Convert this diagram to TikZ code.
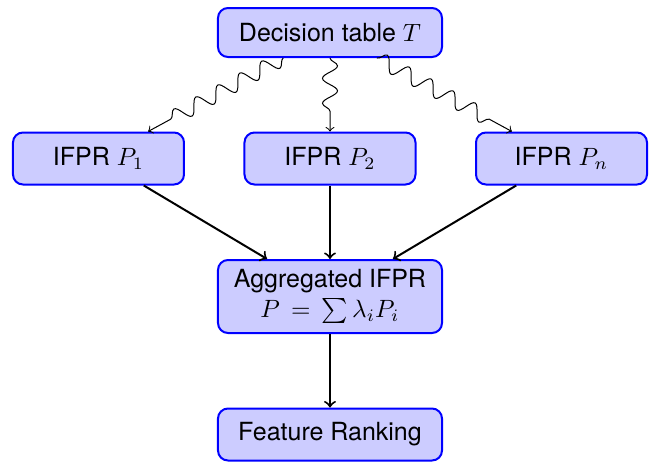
\documentclass[tikz,border=0pt]{standalone}
\usepackage[no-math]{fontspec}
\setmainfont{TeX Gyre Heros}
\usepackage{amsmath,amssymb}
\usetikzlibrary{positioning,decorations.pathmorphing}

\begin{document}
\begin{tikzpicture}[node distance=29.4pt and 23.4pt,>=to,thick]
\tikzset{
  box/.style={rectangle, draw=blue, rounded corners, align=center, fill=blue!20, minimum height=20.8pt},
  wide/.style={box, minimum width=89.6pt},
  narrow/.style={box, minimum width=68.4pt},
  wavy/.style={->, thin, decorate, decoration={snake, amplitude=3pt, post length=6pt}}
}
\useasboundingbox (-132pt,13pt) rectangle (127.6pt,-172.6pt);

% Nodes
\node[wide, minimum height=19.6pt] (table) {Decision table $T$};
\node[narrow, below=of table] (p2) {IFPR $P_2$};
\node[narrow, left=of p2] (p1) {IFPR $P_1$};
\node[narrow, right=of p2] (pn) {IFPR $P_n$};
\node[wide, below=of p2, minimum height=29.2pt] (agg) {Aggregated IFPR\\
$P\,=\,\sum\lambda_iP_i$};
\node[wide, below=of agg] (rank) {Feature Ranking};

% Arrows
\draw[wavy] (table) -- (p1);
\draw[wavy] (table) -- (p2);
\draw[wavy] (table) -- (pn);
\draw[->] (p1) -- (agg);
\draw[->] (p2) -- (agg);
\draw[->] (pn) -- (agg);
\draw[->] (agg) -- (rank);
\end{tikzpicture}
\end{document}
